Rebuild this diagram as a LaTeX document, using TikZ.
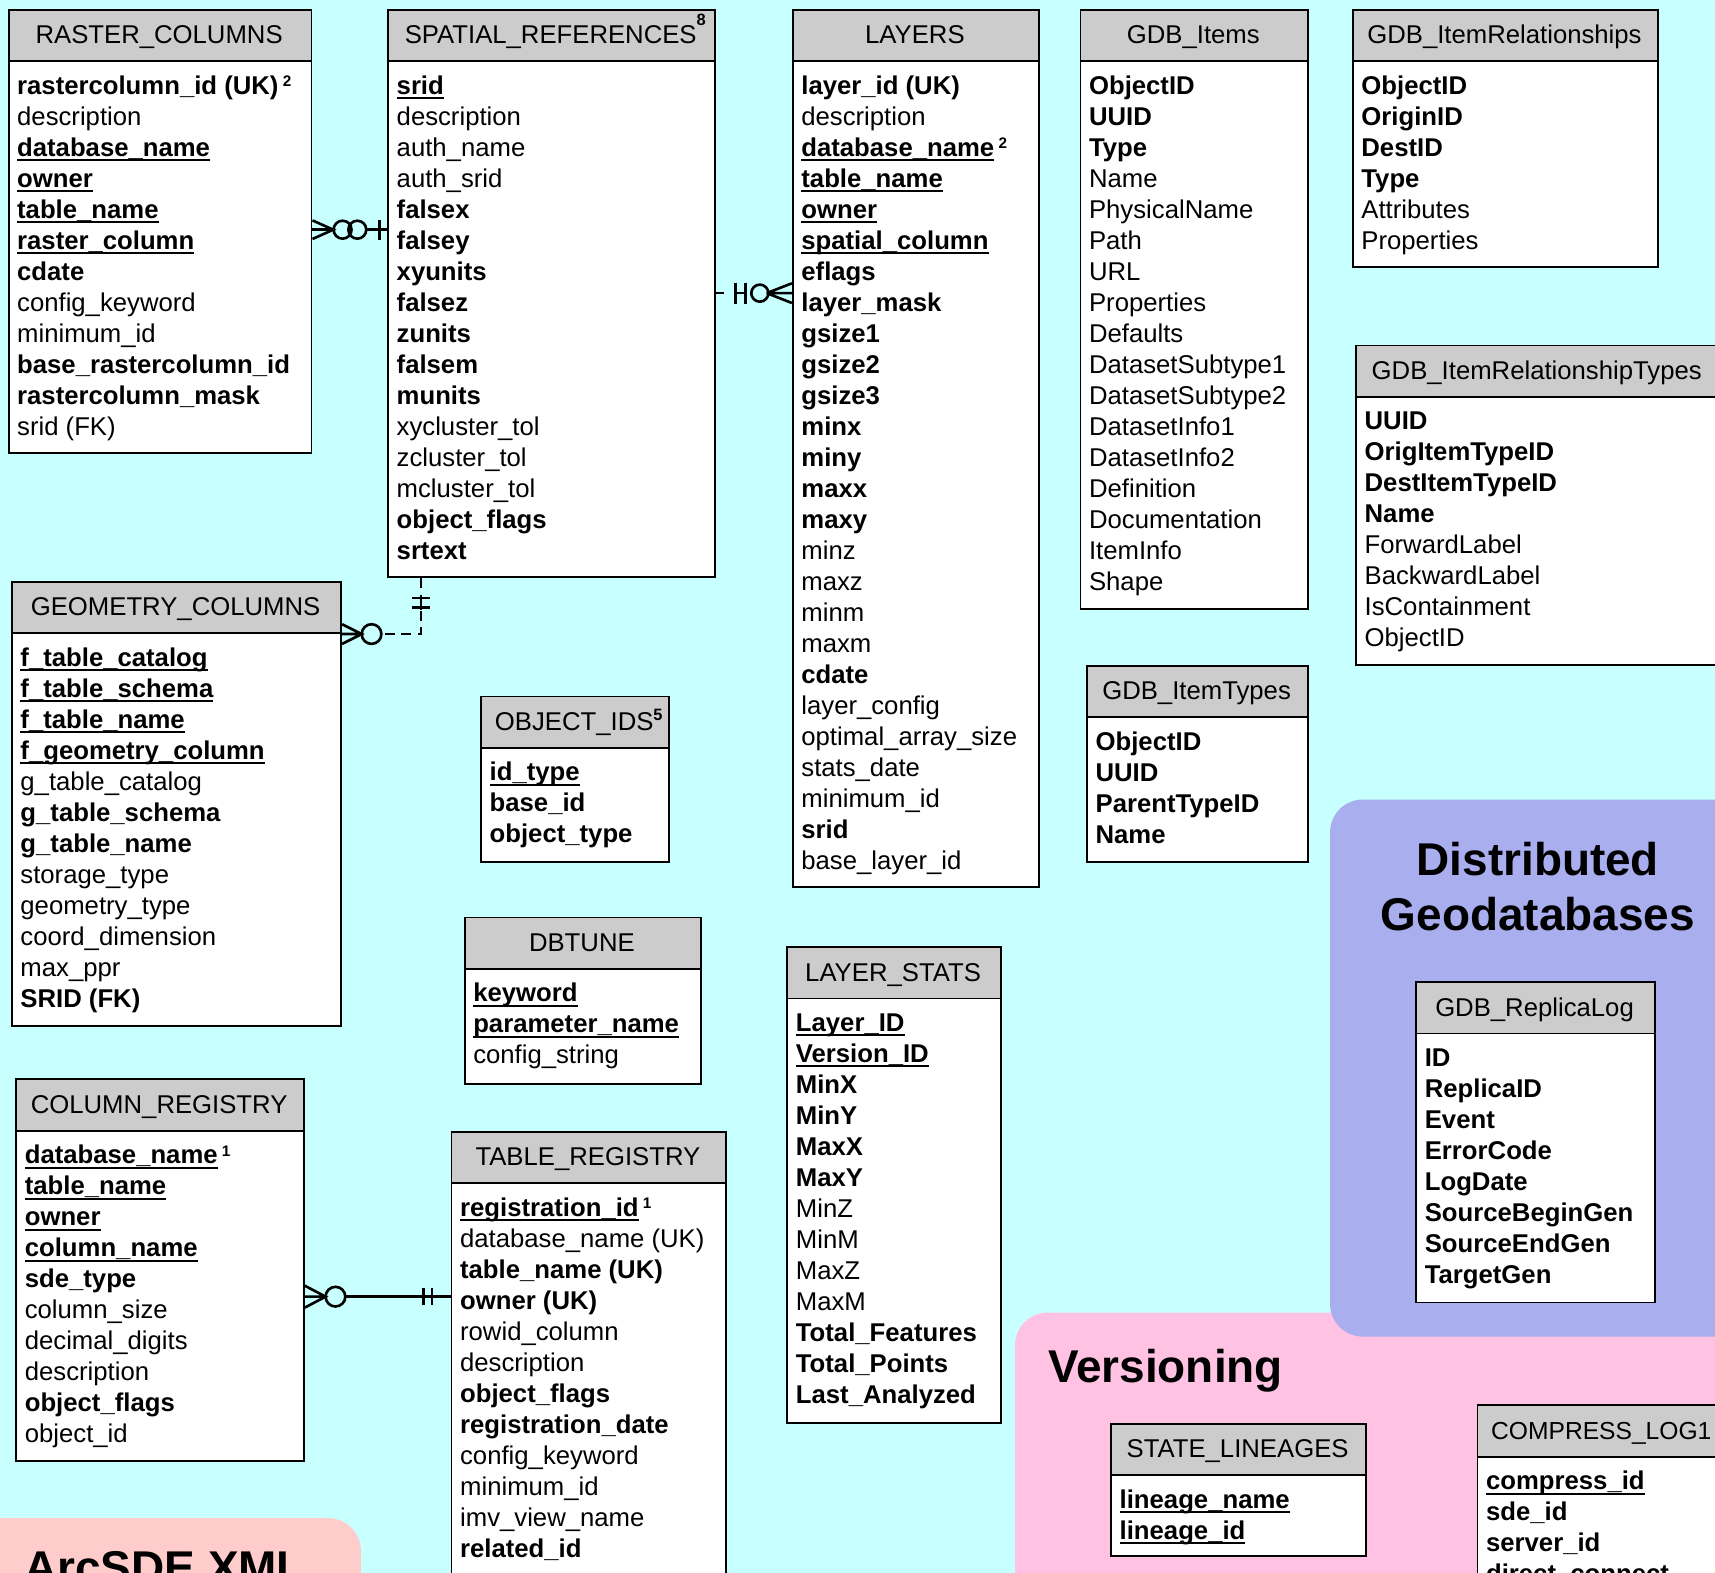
\documentclass[tikz,border=0pt]{standalone}
\usepackage{fontspec}
\setmainfont{Liberation Sans}
\definecolor{bgc}{RGB}{200,255,255}
\definecolor{hdrgray}{RGB}{204,204,204}
\definecolor{pinkc}{RGB}{255,194,226}
\definecolor{bluec}{RGB}{168,174,238}
\definecolor{salmonc}{RGB}{255,204,204}
\newcommand\B[1]{\textbf{#1}}
\newcommand\U[1]{{\bfseries\setbox0\hbox{#1}\rlap{\rule[-0.19em]{\wd0}{0.08em}}\box0}}
\newcommand\Sp[1]{\,\raisebox{7pt}{\fontsize{14}{14}\selectfont\bfseries #1}}
\newcommand\mktable[7]{%
  \pgfmathsetlengthmacro\tw{(#4-#2)*1pt}%
  \pgfmathsetlengthmacro\bh{(#5-#3-47)*1pt}%
  \node[hdrbox, minimum width=\tw, anchor=north west] (#1h) at (#2,#3) {};
  \node[bodybox, minimum width=\tw, minimum height=\bh, anchor=north west] (#1b) at (#2,#3+47) {};
  \node[titletext] (#1t) at ({(#2+#4)/2},#3+31.9) {#6};
  \foreach \rowtxt [count=\i from 0] in {#7} {
    \node[rowtext] (#1r\i) at (#2+8.5, #3+47+31+\i*28.36) {\rowtxt};
  }
}
\begin{document}
\begin{tikzpicture}[x=1pt,y=-1pt,
  every node/.style={font=\fontsize{23.5}{28}\selectfont, inner sep=0pt},
  hdrbox/.style={draw=black, fill=hdrgray, line width=1.7pt, minimum height=47pt, inner sep=0pt},
  bodybox/.style={draw=black, fill=white, line width=1.7pt, inner sep=0pt},
  titletext/.style={anchor=base},
  rowtext/.style={anchor=base west},
  rel/.style={line width=2.4pt, draw=black},
  bigtitle/.style={font=\fontsize{42}{50}\selectfont\bfseries},
]
\useasboundingbox (0,0) rectangle (1568,1438);
\clip (0,0) rectangle (1568,1438);
\fill[bgc] (0,0) rectangle (1568,1438);

% regions
\fill[pinkc, rounded corners=30pt] (928,1200) rectangle (1700,1600);
\fill[bluec, rounded corners=30pt] (1216,731) rectangle (1700,1222);
\fill[salmonc, rounded corners=30pt] (-60,1388) rectangle (330,1600);
\node[bigtitle, anchor=base] (dist1) at (1406,800) {Distributed};
\node[bigtitle, anchor=base] (dist2) at (1406,851) {Geodatabases};
\node[bigtitle, anchor=base west] (vers) at (958,1264) {Versioning};
\node[bigtitle, anchor=base west] (arcxml) at (22,1448) {ArcSDE XML};

% tables
\mktable{rc}{7}{8}{284}{413}{RASTER\_COLUMNS}{%
\B{rastercolumn\_id (UK)}\Sp{2}, description, \U{database\_name}, \U{owner}, \U{table\_name}, \U{raster\_column}, \B{cdate}, config\_keyword, minimum\_id, \B{base\_rastercolumn\_id}, \B{rastercolumn\_mask}, srid (FK)}

\mktable{sr}{354}{8}{653}{527}{SPATIAL\_REFERENCES\rlap{\raisebox{17pt}{\fontsize{15}{15}\selectfont\bfseries 8}}}{%
\U{srid}, description, auth\_name, auth\_srid, \B{falsex}, \B{falsey}, \B{xyunits}, \B{falsez}, \B{zunits}, \B{falsem}, \B{munits}, xycluster\_tol, zcluster\_tol, mcluster\_tol, \B{object\_flags}, \B{srtext}}

\mktable{ly}{724}{8}{949}{810}{LAYERS}{%
\B{layer\_id (UK)}, description, \U{database\_name}\Sp{2}, \U{table\_name}, \U{owner}, \U{spatial\_column}, \B{eflags}, \B{layer\_mask}, \B{gsize1}, \B{gsize2}, \B{gsize3}, \B{minx}, \B{miny}, \B{maxx}, \B{maxy}, minz, maxz, minm, maxm, \B{cdate}, layer\_config, optimal\_array\_size, stats\_date, minimum\_id, \B{srid}, base\_layer\_id}

\mktable{gi}{987}{8}{1195}{556}{GDB\_Items}{%
\B{ObjectID}, \B{UUID}, \B{Type}, Name, PhysicalName, Path, URL, Properties, Defaults, DatasetSubtype1, DatasetSubtype2, DatasetInfo1, DatasetInfo2, Definition, Documentation, ItemInfo, Shape}

\mktable{gir}{1236}{8}{1515}{243}{GDB\_ItemRelationships}{%
\B{ObjectID}, \B{OriginID}, \B{DestID}, \B{Type}, Attributes, Properties}

\mktable{girt}{1239}{315}{1571}{607}{GDB\_ItemRelationshipTypes}{%
\B{UUID}, \B{OrigItemTypeID}, \B{DestItemTypeID}, \B{Name}, ForwardLabel, BackwardLabel, IsContainment, ObjectID}

\mktable{gc}{10}{531}{311}{937}{GEOMETRY\_COLUMNS}{%
\U{f\_table\_catalog}, \U{f\_table\_schema}, \U{f\_table\_name}, \U{f\_geometry\_column}, g\_table\_catalog, \B{g\_table\_schema}, \B{g\_table\_name}, storage\_type, geometry\_type, coord\_dimension, max\_ppr, \B{SRID (FK)}}

\mktable{oi}{439}{636}{611}{787}{OBJECT\_IDS\rlap{\raisebox{9pt}{\fontsize{15}{15}\selectfont\bfseries 5}}}{%
\U{id\_type}, \B{base\_id}, \B{object\_type}}

\mktable{dbt}{424}{838}{640}{990}{DBTUNE}{%
\U{keyword}, \U{parameter\_name}, config\_string}

\mktable{ls}{719}{865}{914}{1300}{LAYER\_STATS}{%
\U{Layer\_ID}, \U{Version\_ID}, \B{MinX}, \B{MinY}, \B{MaxX}, \B{MaxY}, MinZ, MinM, MaxZ, MaxM, \B{Total\_Features}, \B{Total\_Points}, \B{Last\_Analyzed}}

\mktable{git}{993}{608}{1195}{787}{GDB\_ItemTypes}{%
\B{ObjectID}, \B{UUID}, \B{ParentTypeID}, \B{Name}}

\mktable{cr}{14}{986}{277}{1335}{COLUMN\_REGISTRY}{%
\U{database\_name}\Sp{1}, \U{table\_name}, \U{owner}, \U{column\_name}, \B{sde\_type}, column\_size, decimal\_digits, description, \B{object\_flags}, object\_id}

\mktable{tr}{412}{1034}{663}{1520}{TABLE\_REGISTRY}{%
\U{registration\_id}\Sp{1}, database\_name (UK), \B{table\_name (UK)}, \B{owner (UK)}, rowid\_column, description, \B{object\_flags}, \B{registration\_date}, config\_keyword, minimum\_id, imv\_view\_name, \B{related\_id}}

\mktable{rl}{1294}{897}{1512}{1190}{GDB\_ReplicaLog}{%
\B{ID}, \B{ReplicaID}, \B{Event}, \B{ErrorCode}, \B{LogDate}, \B{SourceBeginGen}, \B{SourceEndGen}, \B{TargetGen}}

\mktable{sl}{1015}{1301}{1248}{1422}{STATE\_LINEAGES}{%
\U{lineage\_name}, \U{lineage\_id}}

\mktable{cl}{1350}{1284}{1578}{1520}{{\fontsize{22.5}{22.5}\selectfont COMPRESS\_LOG1}}{%
\U{compress\_id}, \B{sde\_id}, \B{server\_id}, \B{direct\_connect}}

% connector 1: RASTER_COLUMNS -- SPATIAL_REFERENCES
\coordinate (k1a) at (rcb.east |- 0,210);
\coordinate (k1b) at (srb.west |- 0,210);
\draw[rel] (k1a) -- ++(19,0);
\draw[rel] ([shift={(0,-8.5)}]k1a) -- ++(19,8.5) -- ++(-19,8.5);
\draw[rel] ([shift={(27.5,0)}]k1a) circle[radius=8.2pt];
\draw[rel] ([shift={(41,0)}]k1a) circle[radius=8.2pt];
\draw[rel] ([shift={(49.2,0)}]k1a) -- (k1b);
\draw[rel] ([shift={(61,-9)}]k1a) -- ++(0,18);

% connector 2: SPATIAL_REFERENCES -- LAYERS
\coordinate (k2a) at (srb.east |- 0,268);
\coordinate (k2b) at (lyb.west |- 0,268);
\draw[rel] (k2a) -- ++(7,0);
\draw[rel] ([shift={(18,-9.5)}]k2a) -- ++(0,19) ([shift={(27,-9.5)}]k2a) -- ++(0,19) ([shift={(18,0)}]k2a) -- ++(9,0);
\draw[rel] ([shift={(40,0)}]k2a) circle[radius=7.8pt];
\draw[rel] ([shift={(48,0)}]k2a) -- (k2b) ([shift={(-23,0)}]k2b) -- ([shift={(0,-9)}]k2b) ([shift={(-23,0)}]k2b) -- ([shift={(0,9)}]k2b);

% connector 3: SPATIAL_REFERENCES -- GEOMETRY_COLUMNS (dashed)
\coordinate (k3a) at ([xshift=31pt]srb.south west);
\coordinate (k3b) at (gch.south east);
\coordinate (k3c) at (k3a |- k3b);
\draw[rel, dash pattern=on 9pt off 6pt] (k3a) -- (k3c) -- ([shift={(36,0)}]k3b);
\draw[rel] ([shift={(-8.5,18)}]k3a) -- ++(17,0) ([shift={(-8.5,27)}]k3a) -- ++(17,0) ([shift={(0,16)}]k3a) -- ++(0,13);
\draw[rel] ([shift={(27,0)}]k3b) circle[radius=9pt];
\draw[rel] ([shift={(0,-9)}]k3b) -- ++(18,9) -- ++(-18,9) (k3b) -- ++(18,0);

% connector 4: COLUMN_REGISTRY -- TABLE_REGISTRY
\coordinate (k4a) at (crb.east |- 0,1185.5);
\coordinate (k4b) at (trb.west |- 0,1185.5);
\draw[rel] ([shift={(0,-10)}]k4a) -- ++(19,10) -- ++(-19,10) (k4a) -- ++(19,0);
\draw[rel] ([shift={(28,0)}]k4a) circle[radius=9pt];
\draw[rel] ([shift={(37,0)}]k4a) -- (k4b);
\draw[rel] ([shift={(-25,-8)}]k4b) -- ++(0,16) ([shift={(-17,-8)}]k4b) -- ++(0,16);
\end{tikzpicture}
\end{document}
